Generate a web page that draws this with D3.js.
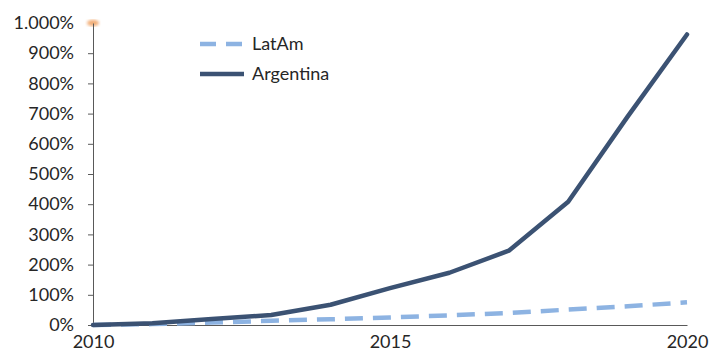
<!DOCTYPE html>
<html><head><meta charset="utf-8">
<script src="https://cdn.jsdelivr.net/npm/d3@7"></script>
<style>
html,body{margin:0;padding:0;background:#fff;}
text{font-family:Lato,"Liberation Sans",sans-serif;fill:#262626;}
</style></head>
<body>
<svg id="c" width="711" height="354"></svg>
<script>
const years = [2010,2011,2012,2013,2014,2015,2016,2017,2018,2019,2020];
const latam = [0,3,8,14,19,25,32,40,51,62,75];
const argentina = [0,6,20,33,67,122,173,246,408,690,962];
const yTicks = [0,100,200,300,400,500,600,700,800,900,1000];
const xTicks = [2010,2015,2020];
const seriesNames = ["LatAm","Argentina"];

const svg = d3.select("#c");
const x = d3.scaleLinear().domain([2010,2020]).range([93,687]);
const y = d3.scaleLinear().domain([0,1000]).range([325,23]);
const fmt = v => (v>=1000 ? d3.format(",")(v).replace(/,/g,".") : v) + "%";

// orange glow at top of axis
const defs = svg.append("defs");
defs.append("filter").attr("id","blur").append("feGaussianBlur").attr("stdDeviation",1.6);
svg.append("ellipse").attr("cx",x(2010)).attr("cy",y(1000)).attr("rx",6).attr("ry",3.2)
  .attr("fill","#f0a060").attr("opacity",0.85).attr("filter","url(#blur)");

// y axis
const ya = svg.append("g").attr("transform",`translate(${x(2010)},0)`)
  .call(d3.axisLeft(y).tickValues(yTicks).tickFormat(fmt).tickSize(5).tickSizeOuter(0).tickPadding(14));
ya.select(".domain").attr("stroke","#595959");
ya.selectAll(".tick line").attr("stroke","#595959");
ya.selectAll(".tick text").style("font-size","18px").attr("fill","#262626");
ya.selectAll(".tick").filter(d=>d===1000).select("line").remove();

// x axis
const xa = svg.append("g").attr("transform",`translate(0,${y(0)})`)
  .call(d3.axisBottom(x).tickValues(xTicks).tickFormat(d3.format("d")).tickSize(0).tickSizeOuter(0).tickPadding(10));
xa.select(".domain").attr("stroke","#595959");
xa.selectAll(".tick text").style("font-size","18px").attr("fill","#262626");

const line = d3.line().x((d,i)=>x(years[i])).y(d=>y(d));
svg.append("path").datum(latam).attr("d",line).attr("fill","none")
  .attr("stroke","#8db3e2").attr("stroke-width",4.5).attr("stroke-dasharray","18,10");
svg.append("path").datum(argentina).attr("d",line).attr("fill","none")
  .attr("stroke","#3b5273").attr("stroke-width",4.5).attr("stroke-linejoin","round").attr("stroke-linecap","round");

// legend
const lg = svg.append("g");
const styles = [{c:"#8db3e2",dash:"16,10"},{c:"#3b5273",dash:null}];
seriesNames.forEach((n,i)=>{
  const yy = 44 + i*30;
  const l = lg.append("line").attr("x1",200).attr("x2",244).attr("y1",yy).attr("y2",yy)
    .attr("stroke",styles[i].c).attr("stroke-width",4.5);
  if(styles[i].dash) l.attr("stroke-dasharray",styles[i].dash);
  lg.append("text").attr("x",252).attr("y",yy).attr("dy","0.36em").style("font-size","18px").text(n);
});
</script>
</body></html>
